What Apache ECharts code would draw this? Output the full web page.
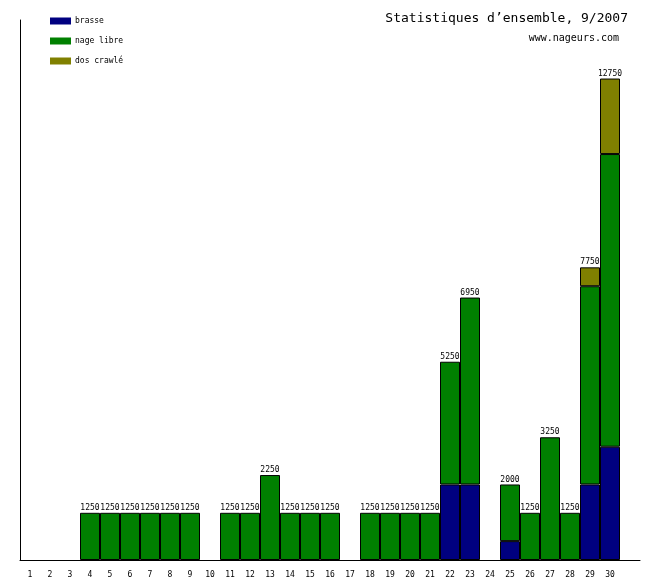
<!DOCTYPE html>
<html>
<head>
<meta charset="utf-8">
<script src="https://cdn.jsdelivr.net/npm/echarts@6/dist/echarts.min.js"></script>
<style>
  html, body { margin: 0; padding: 0; background: #fff; }
  #main { width: 660px; height: 580px; }
</style>
</head>
<body>
<div id="main"></div>
<script>
// jours du mois (31e case vide comme sur l'original)
var days = ['1','2','3','4','5','6','7','8','9','10','11','12','13','14','15',
            '16','17','18','19','20','21','22','23','24','25','26','27','28','29','30',''];
var brasse    = [0,0,0,0,0,0,0,0,0,0,0,0,0,0,0,0,0,0,0,0,0,2000,2000,0,500,0,0,0,2000,3000,0];
var nageLibre = [0,0,0,1250,1250,1250,1250,1250,1250,0,1250,1250,2250,1250,1250,1250,0,1250,1250,1250,1250,3250,4950,0,1500,1250,3250,1250,5250,7750,0];
var dosCrawle = [0,0,0,0,0,0,0,0,0,0,0,0,0,0,0,0,0,0,0,0,0,0,0,0,0,0,0,0,500,2000,0];

var totals = days.map(function (d, i) {
  var t = brasse[i] + nageLibre[i] + dosCrawle[i];
  return t > 0 ? t : '-';
});

var mono = 'DejaVu Sans Mono';
var chart = echarts.init(document.getElementById('main'));

function seg(name, data, color) {
  return {
    name: name,
    type: 'bar',
    stack: 'total',
    data: data.map(function (v) { return v > 0 ? v : '-'; }),
    barCategoryGap: '0%',
    itemStyle: { color: color, borderColor: '#000', borderWidth: 1 },
    emphasis: { disabled: true }
  };
}

chart.setOption({
  animation: false,
  title: [
    { text: 'Statistiques d\u2019ensemble, 9/2007', right: 27, top: 7,
      textStyle: { fontFamily: mono, fontSize: 13, fontWeight: 'normal', color: '#000' } },
    { text: 'www.nageurs.com', right: 36, top: 28,
      textStyle: { fontFamily: mono, fontSize: 10, fontWeight: 'normal', color: '#000' } }
  ],
  legend: {
    orient: 'vertical',
    left: 50,
    top: 17,
    padding: 0,
    itemWidth: 21,
    itemHeight: 7,
    itemGap: 12,
    icon: 'rect',
    data: ['brasse', 'nage libre', 'dos crawl\u00e9'],
    itemStyle: { borderWidth: 0 },
    textStyle: { fontFamily: mono, fontSize: 8, color: '#000', padding: [0, 0, 0, -1] }
  },
  grid: { left: 20, right: 20, top: 20, bottom: 20 },
  xAxis: {
    type: 'category',
    data: days,
    axisLine: { lineStyle: { color: '#000', width: 1 } },
    axisTick: { show: false },
    axisLabel: { color: '#000', fontFamily: mono, fontSize: 8, margin: 11, interval: 0 }
  },
  yAxis: {
    type: 'value',
    min: 0,
    max: 14300,
    axisLine: { show: true, lineStyle: { color: '#000', width: 1 } },
    axisTick: { show: false },
    axisLabel: { show: false },
    splitLine: { show: false }
  },
  series: [
    seg('brasse', brasse, '#000080'),
    seg('nage libre', nageLibre, '#008000'),
    seg('dos crawl\u00e9', dosCrawle, '#808000'),
    {
      name: 'total',
      type: 'bar',
      data: totals,
      barGap: '-100%',
      barCategoryGap: '0%',
      itemStyle: { color: 'rgba(0,0,0,0)' },
      silent: true,
      z: 3,
      label: {
        show: true,
        position: 'top',
        distance: 1,
        color: '#000',
        fontFamily: mono,
        fontSize: 8
      }
    }
  ]
});
</script>
</body>
</html>
